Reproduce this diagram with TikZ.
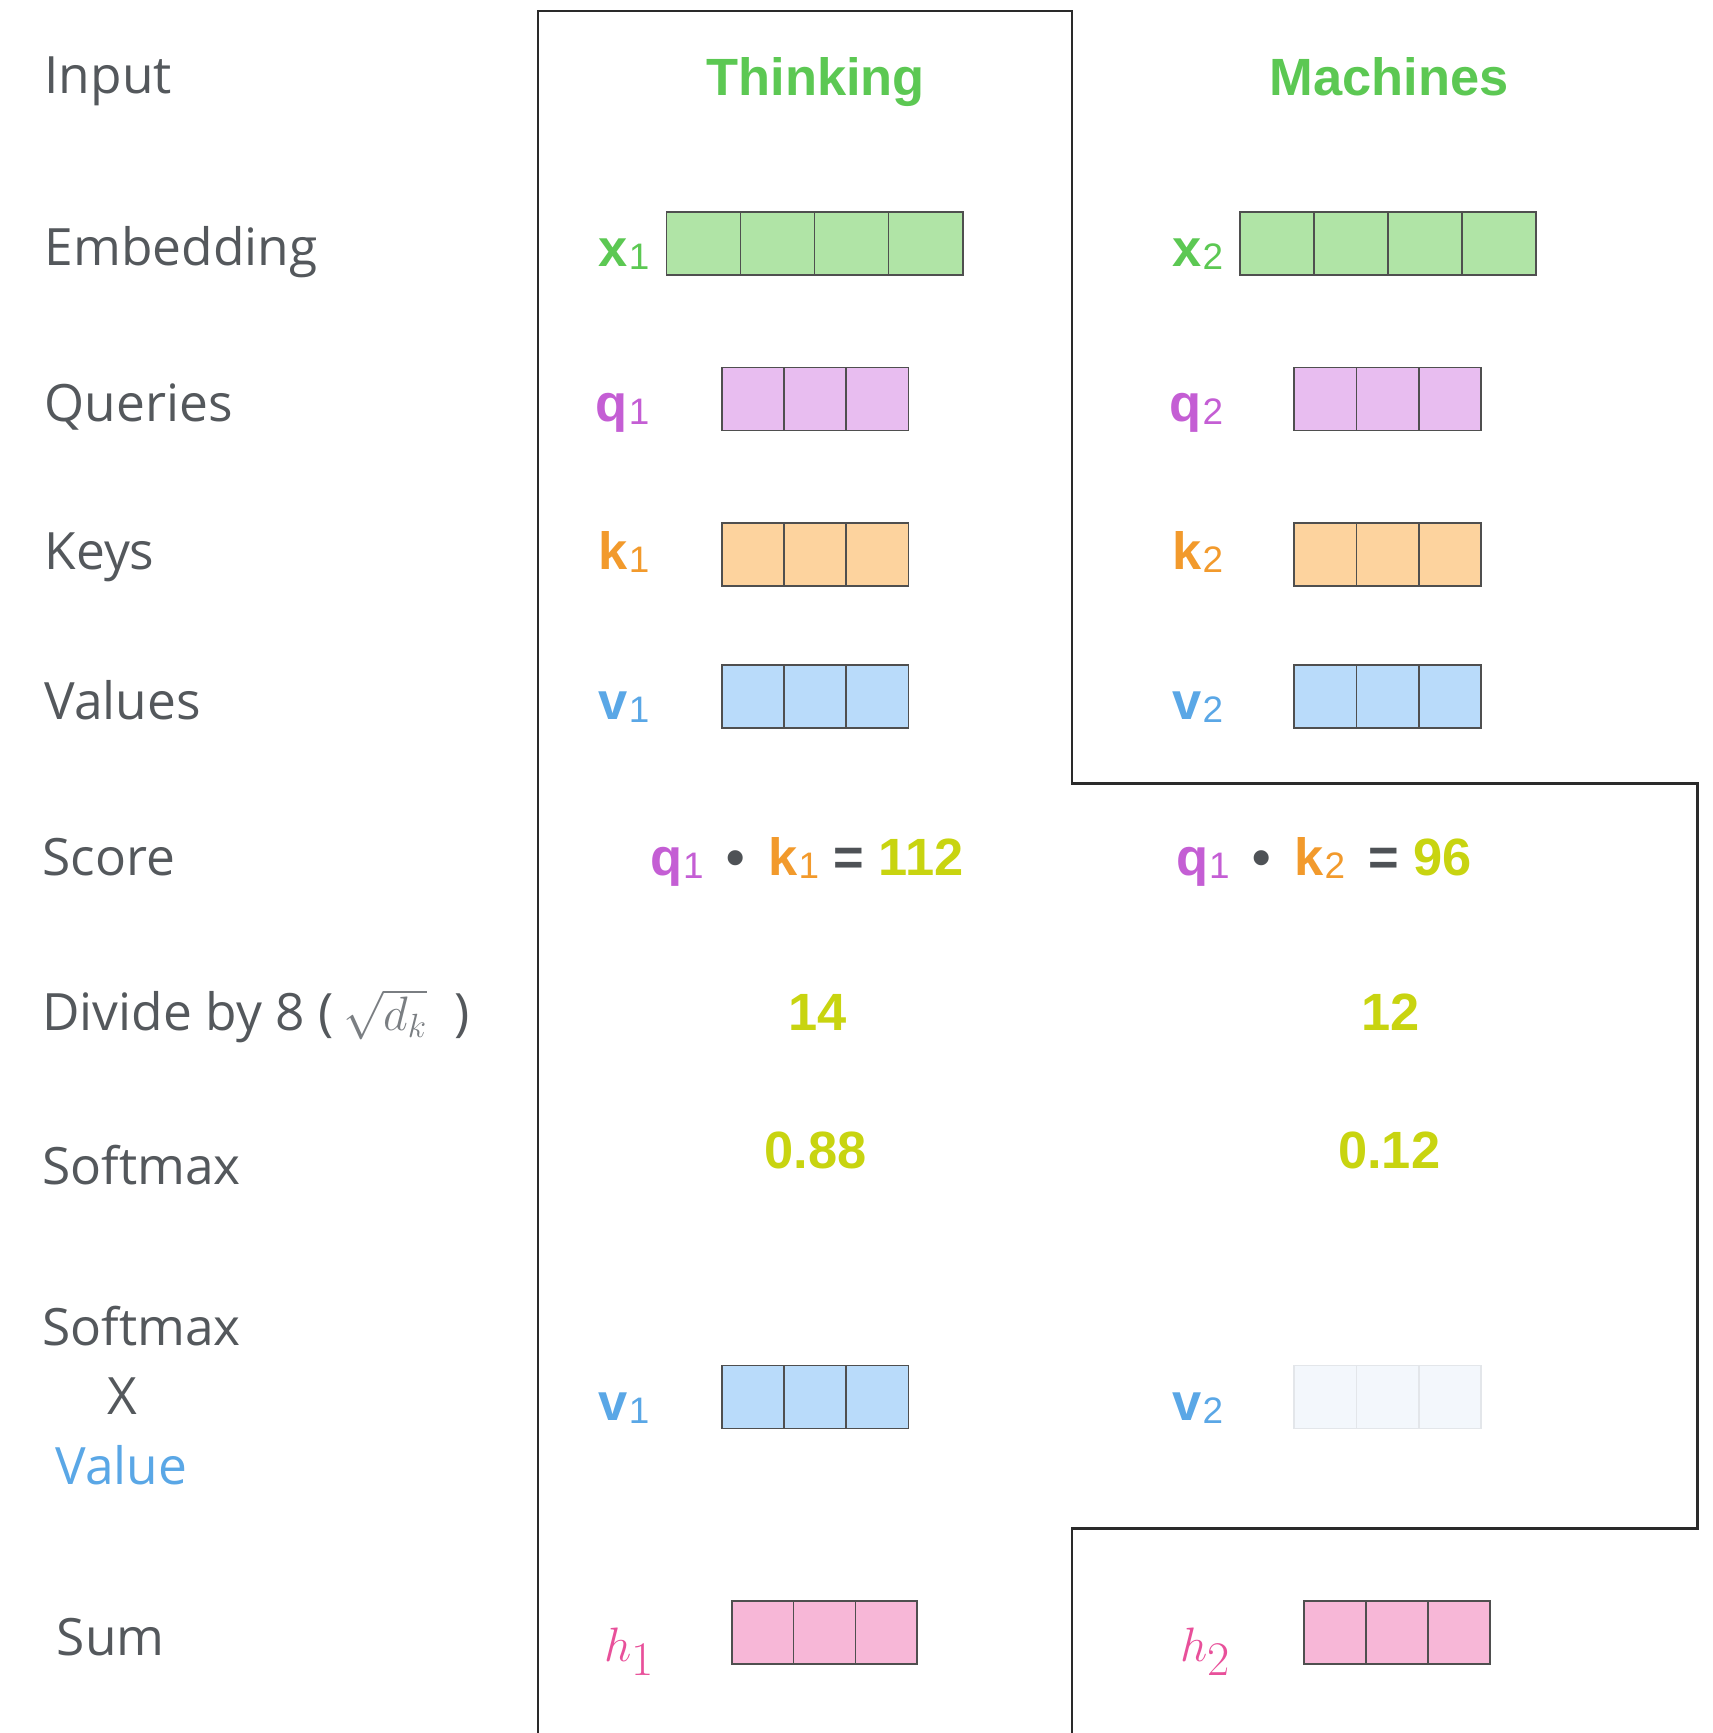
\documentclass[tikz,border=0pt]{standalone}
\usepackage[no-math]{fontspec}
\setmainfont{Open Sans}
\newfontfamily\arialfont{Liberation Sans}
\usetikzlibrary{positioning}

\definecolor{labgray}{HTML}{54585C}
\definecolor{mathgray}{HTML}{7A7E82}
\definecolor{dotgray}{HTML}{4E5256}
\definecolor{framegray}{HTML}{2A2A2A}
\definecolor{cellgray}{HTML}{4F4F4F}
\definecolor{wordgreen}{HTML}{5CC853}
\definecolor{xfill}{HTML}{B0E4A6}
\definecolor{qcol}{HTML}{C45ED4}
\definecolor{qfill}{HTML}{E8BDF0}
\definecolor{kcol}{HTML}{F29A2C}
\definecolor{kfill}{HTML}{FDD39E}
\definecolor{vcol}{HTML}{5AA7E6}
\definecolor{vfill}{HTML}{B9DBFA}
\definecolor{numcol}{HTML}{C8D410}
\definecolor{hpink}{HTML}{E8509A}
\definecolor{hfill}{HTML}{F7B7D7}
\definecolor{fadefill}{HTML}{F3F7FC}
\definecolor{fadeline}{HTML}{E3E6EA}

% small upright index after a bold letter
\newcommand{\sub}[1]{\kern0.5pt\raisebox{-1.5pt}{\fontsize{19}{19}\selectfont\mdseries #1}}
% row of cells: name, left x, middle y, cells, cell width, look
\newcommand{\vecbox}[6]{%
  \foreach \i in {1,...,#4}
    \node[cell, minimum width=#5*0.02cm, #6] (#1-\i) at ({#2+(\i-0.5)*#5},#3) {};
}

\begin{document}
\begin{tikzpicture}[x=0.02cm, y=-0.02cm,
    rowlab/.style={anchor=base west, inner sep=0pt, text=labgray, font=\fontsize{26.5}{30}\selectfont},
    word/.style={anchor=base, inner sep=0pt, text=wordgreen, font=\arialfont\bfseries\fontsize{27}{30}\selectfont},
    veclab/.style={anchor=base east, inner sep=0pt, font=\arialfont\bfseries\fontsize{27}{30}\selectfont},
    num/.style={anchor=base, inner sep=0pt, text=numcol, font=\arialfont\bfseries\fontsize{27}{30}\selectfont},
    hlab/.style={anchor=base east, inner sep=0pt, text=hpink, font=\fontsize{33}{36}\selectfont},
    cell/.style={draw=cellgray, line width=0.9pt, minimum height=57*0.02cm, inner sep=0pt, outer sep=0pt},
    frame/.style={draw=framegray, line width=1.2pt}]

  \useasboundingbox (0,0) rectangle (1549,1568);

  % row names
  \node[rowlab] (input) at (40,85) {Input};
  \node[rowlab] (embed) at (40,240) {Embedding};
  \node[rowlab] (queries) at (40,381) {Queries};
  \node[rowlab] (keys) at (40,515) {Keys};
  \node[rowlab] (values) at (40,651) {Values};
  \node[rowlab] (score) at (38,792) {Score};
  \node[rowlab] (divide) at (38,932) {Divide by 8 (\hspace{5pt}{\color{mathgray}\fontsize{24}{26}\selectfont$\sqrt{d_k}$}\hspace{14pt})};
  \node[rowlab] (softmax) at (38,1072) {Softmax};
  \node[rowlab] (smax) at (38,1217) {Softmax};
  \node[rowlab] (times) at (97,1280) {X};
  \node[rowlab, text=vcol] (value) at (50,1343) {Value};
  \node[rowlab] (sum) at (51,1498) {Sum};

  % outline round the two columns
  \draw[frame] (487,1568) -- (487,10) -- (970,10) -- (970,709) -- (1536,709)
    -- (1536,1383) -- (970,1383) -- (970,1568);

  % input words
  \node[word] (think) at (738,86) {Thinking};
  \node[word] (mach) at (1257,86) {Machines};

  % embeddings
  \vecbox{x1}{603}{220}{4}{67}{fill=xfill}
  \vecbox{x2}{1122}{220}{4}{67}{fill=xfill}
  \node[veclab, text=wordgreen] (lx1) at (588,241) {x\sub{1}};
  \node[veclab, text=wordgreen] (lx2) at (1107,241) {x\sub{2}};

  % queries, keys, values
  \vecbox{q1}{653}{361}{3}{56.3}{fill=qfill}
  \vecbox{q2}{1171}{361}{3}{56.3}{fill=qfill}
  \vecbox{k1}{653}{502}{3}{56.3}{fill=kfill}
  \vecbox{k2}{1171}{502}{3}{56.3}{fill=kfill}
  \vecbox{v1}{653}{630}{3}{56.3}{fill=vfill}
  \vecbox{v2}{1171}{630}{3}{56.3}{fill=vfill}
  \node[veclab, text=qcol] (lq1) at (588,381) {q\sub{1}};
  \node[veclab, text=qcol] (lq2) at (1107,381) {q\sub{2}};
  \node[veclab, text=kcol] (lk1) at (588,515) {k\sub{1}};
  \node[veclab, text=kcol] (lk2) at (1107,515) {k\sub{2}};
  \node[veclab, text=vcol] (lv1) at (588,651) {v\sub{1}};
  \node[veclab, text=vcol] (lv2) at (1107,651) {v\sub{2}};

  % scores
  \node[num] (s1) at (730,792) {{\color{qcol}q\sub{1}}\, {\color{dotgray}\textbullet}\, {\color{kcol}k\sub{1}} {\color{dotgray}=} 112};
  \node[num] (s2) at (1198,792) {{\color{qcol}q\sub{1}}\, {\color{dotgray}\textbullet}\, {\color{kcol}k\sub{2}}\, {\color{dotgray}=} 96};
  \node[num] (d1) at (740,932) {14};
  \node[num] (d2) at (1258,932) {12};
  \node[num] (p1) at (738,1057) {0.88};
  \node[num] (p2) at (1257,1057) {0.12};

  % weighted values
  \vecbox{w1}{653}{1264}{3}{56.3}{fill=vfill}
  \vecbox{w2}{1171}{1264}{3}{56.3}{fill=fadefill, draw=fadeline}
  \node[veclab, text=vcol] (lw1) at (588,1285) {v\sub{1}};
  \node[veclab, text=vcol] (lw2) at (1107,1285) {v\sub{2}};

  % sums
  \vecbox{h1}{662}{1477}{3}{56}{fill=hfill}
  \vecbox{h2}{1180}{1477}{3}{56}{fill=hfill}
  \node[hlab] (lh1) at (593,1503) {$h_1$};
  \node[hlab] (lh2) at (1114,1503) {$h_2$};
\end{tikzpicture}
\end{document}
